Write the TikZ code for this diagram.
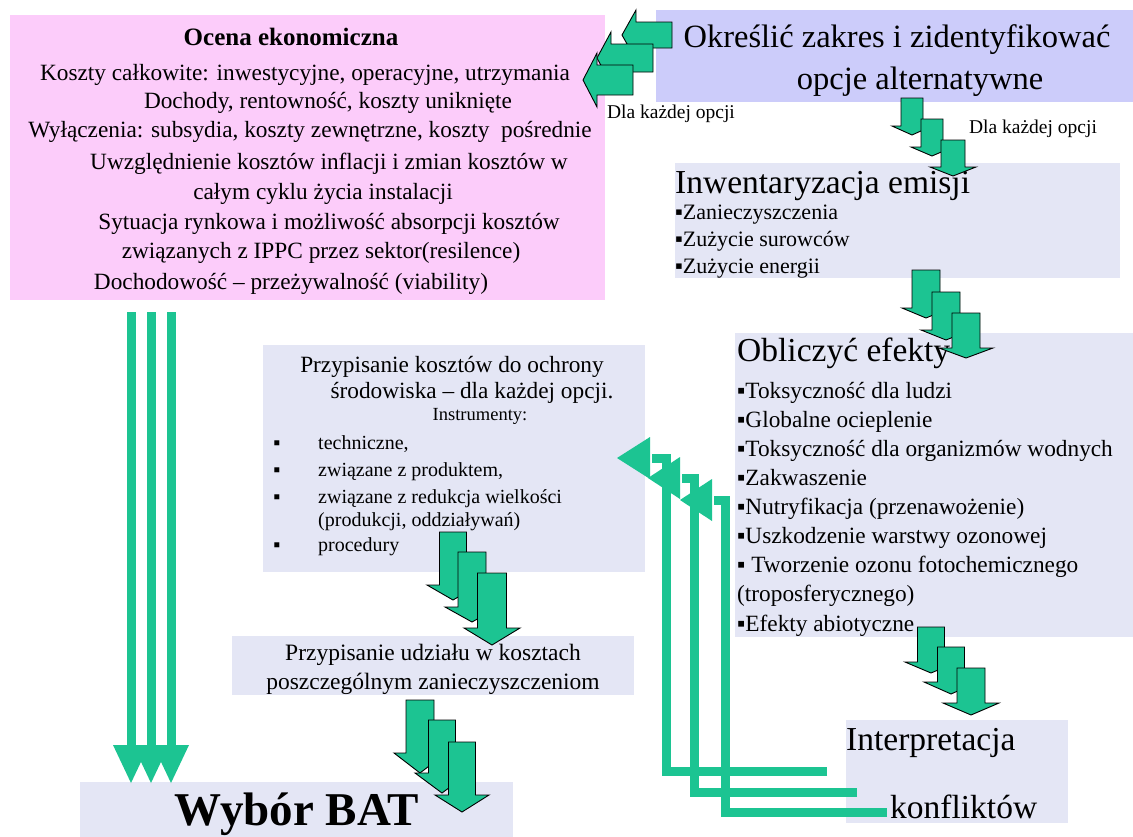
\documentclass[tikz,border=0pt]{standalone}
\usepackage{fontspec}
\setmainfont{Liberation Serif}
\definecolor{pinkc}{RGB}{252,204,250}
\definecolor{lavc}{RGB}{204,204,250}
\definecolor{boxc}{RGB}{228,230,245}
\definecolor{arrgreen}{RGB}{28,196,146}
\newcommand\myfs[1]{\fontsize{#1}{#1}\selectfont}
\newcommand\DnArrow[6]{%
 \filldraw[barrow] ({#1-#3/2},#2) -- ({#1+#3/2},#2) -- ({#1+#3/2},#4) -- ({#1+#5},#4) -- (#1,#6) -- ({#1-#5},#4) -- ({#1-#3/2},#4) -- cycle;}
\newcommand\LtArrow[6]{%
 \filldraw[barrow] (#1,{#2-#4}) -- (#3,{#2-#4}) -- (#3,{#2-#5}) -- (#6,#2) -- (#3,{#2+#5}) -- (#3,{#2+#4}) -- (#1,{#2+#4}) -- cycle;}
\begin{document}
\begin{tikzpicture}[x=1pt,y=-1pt,
  box/.style={draw=none,inner sep=0pt,anchor=north west,fill=boxc},
  txt/.style={inner sep=0pt,anchor=base},
  txtw/.style={inner sep=0pt,anchor=base west},
  barrow/.style={fill=arrgreen,draw=black,line width=0.9pt,line join=miter},
  gline/.style={draw=arrgreen,line width=9pt,line join=miter},
  ghead/.style={fill=arrgreen}]
\useasboundingbox[fill=white] (0,0) rectangle (1133,836);
% boxes
\node[box,fill=pinkc,minimum width=595pt,minimum height=285pt] (eco) at (10,15) {};
\node[box,fill=lavc,minimum width=477pt,minimum height=92pt] (scope) at (656,10) {};
\node[box,minimum width=445pt,minimum height=115pt] (inv) at (675,163) {};
\node[box,minimum width=382pt,minimum height=227pt] (koszt) at (263,345) {};
\node[box,minimum width=398pt,minimum height=304pt] (efekty) at (735,333) {};
\node[box,minimum width=402pt,minimum height=59pt] (udzial) at (232,636) {};
\node[box,minimum width=222pt,minimum height=103pt] (interp) at (846,720) {};
\node[box,minimum width=433pt,minimum height=60pt] (bat) at (80,782) {};
% pink texts
\node[txt,font=\myfs{25}\bfseries] (e0) at (291,45) {Ocena ekonomiczna};
\node[txt,font=\myfs{23.3}] (e1) at (305,80) {Koszty całkowite: inwestycyjne, operacyjne, utrzymania};
\node[txt,font=\myfs{23.3}] (e2) at (328,108) {Dochody, rentowność, koszty uniknięte};
\node[txt,font=\myfs{23.3}] (e3) at (310,137) {Wyłączenia: subsydia, koszty zewnętrzne, koszty\ \ pośrednie};
\node[txt,font=\myfs{23.3}] (e4) at (329,169) {Uwzględnienie kosztów inflacji i zmian kosztów w};
\node[txt,font=\myfs{23.3}] (e5) at (323,199) {całym cyklu życia instalacji};
\node[txt,font=\myfs{23.3}] (e6) at (329,229) {Sytuacja rynkowa i możliwość absorpcji kosztów};
\node[txt,font=\myfs{23.3}] (e7) at (321,258) {związanych z IPPC przez sektor(resilence)};
\node[txt,font=\myfs{23.3}] (e8) at (291,289) {Dochodowość – przeżywalność (viability)};
% scope
\node[txt,font=\myfs{32.5}] (s1) at (897,47) {Określić zakres i zidentyfikować};
\node[txt,font=\myfs{32.5}] (s2) at (920,89) {opcje alternatywne};
\node[txt,font=\myfs{19.5}] (d1) at (671,118) {Dla każdej opcji};
\node[txt,font=\myfs{19.5}] (d2) at (1033,133) {Dla każdej opcji};
% inventory
\node[txtw,font=\myfs{33.5}] (i0) at (675,193) {Inwentaryzacja emisji};
\node[txtw,font=\myfs{22}] (i1) at (675,219) {▪Zanieczyszczenia};
\node[txtw,font=\myfs{22}] (i2) at (675,246) {▪Zużycie surowców};
\node[txtw,font=\myfs{22}] (i3) at (675,273) {▪Zużycie energii};
% effects
\node[txtw,font=\myfs{33.5}] (f0) at (737,361) {Obliczyć efekty};
\node[txtw,font=\myfs{23.3}] (f1) at (737,398) {▪Toksyczność dla ludzi};
\node[txtw,font=\myfs{23.3}] (f2) at (737,427) {▪Globalne ocieplenie};
\node[txtw,font=\myfs{23.3}] (f3) at (737,456) {▪Toksyczność dla organizmów wodnych};
\node[txtw,font=\myfs{23.3}] (f4) at (737,485) {▪Zakwaszenie};
\node[txtw,font=\myfs{23.3}] (f5) at (737,514) {▪Nutryfikacja (przenawożenie)};
\node[txtw,font=\myfs{23.3}] (f6) at (737,543) {▪Uszkodzenie warstwy ozonowej};
\node[txtw,font=\myfs{23.3}] (f7) at (737,572) {▪ Tworzenie ozonu fotochemicznego};
\node[txtw,font=\myfs{23.3}] (f8) at (737,601) {(troposferycznego)};
\node[txtw,font=\myfs{23.3}] (f9) at (737,631) {▪Efekty abiotyczne};
% cost allocation
\node[txt,font=\myfs{23.3}] (k1) at (452,372) {Przypisanie kosztów do ochrony};
\node[txt,font=\myfs{23.3}] (k2) at (472,398) {środowiska – dla każdej opcji.};
\node[txt,font=\myfs{18.5}] (k3) at (480,420) {Instrumenty:};
\foreach \yy/\tt [count=\i] in {449/{techniczne,},476/{związane z produktem,},503/{związane z redukcja wielkości},551/{procedury}}{
  \node[txt,font=\myfs{20}] (kb\i) at (277,\yy) {▪};
  \node[txtw,font=\myfs{20}] (kt\i) at (318,\yy) {\tt};
}
\node[txtw,font=\myfs{20}] (kt5) at (318,526) {(produkcji, oddziaływań)};
% share
\node[txt,font=\myfs{23.5}] (u1) at (433,660) {Przypisanie udziału w kosztach};
\node[txt,font=\myfs{23.5}] (u2) at (433,689) {poszczególnym zanieczyszczeniom};
% interpretation
\node[txtw,font=\myfs{33.5}] (p1) at (846,750) {Interpretacja};
\node[txtw,font=\myfs{33.5}] (p2) at (890,818) {konfliktów};
% BAT
\node[txt,font=\myfs{47}\bfseries] (b1) at (297,825) {Wybór BAT};
% left block arrows (scope -> eco)
\LtArrow{672}{35}{636}{13}{25}{622}
\LtArrow{653}{58}{611}{14}{26}{597}
\LtArrow{633}{80}{597}{15}{27}{583}
% down block arrows
\DnArrow{912}{98}{22}{126}{20}{135}
\DnArrow{932}{119}{22}{147}{21}{156}
\DnArrow{953}{140}{24}{167}{23}{176}
\DnArrow{926}{270}{28}{308}{24}{318}
\DnArrow{946}{292}{28}{330}{25}{340}
\DnArrow{966}{313}{28}{348}{27}{358}
\DnArrow{931}{627}{27}{662}{26}{673}
\DnArrow{951}{647}{27}{682}{27}{694}
\DnArrow{971}{668}{28}{703}{28}{715}
\DnArrow{453}{532}{27}{585}{26}{600}
\DnArrow{472}{552}{28}{607}{27}{622}
\DnArrow{492}{573}{29}{628}{28}{645}
\DnArrow{420}{700}{28}{753}{26}{773}
\DnArrow{442}{720}{27}{773}{27}{793}
\DnArrow{462}{742}{27}{795}{27}{812}
% left triple lines eco -> bat
\foreach \xx [count=\i] in {131,151,171}{
  \coordinate (lt\i) at (\xx,312);
  \coordinate (lb\i) at (\xx,748);
  \draw[gline] (lt\i) -- (lb\i);
  \fill[ghead] (\xx-18,745) -- (\xx+18,745) -- (\xx,783) -- cycle;
}
% return lines interp -> koszt
\foreach \ex/\ey/\vx/\hy/\hb/\tip [count=\i] in {827/771/666/458/650/617, 857/792/694/478/680/648, 887/812/725/500/712/680}{
  \coordinate (rs\i) at (\ex,\ey);
  \coordinate (re\i) at (\hb+2,\hy);
  \draw[gline] (rs\i) -- (\vx,\ey) -- (\vx,\hy) -- (re\i);
  \fill[ghead] (\hb,\hy-21) -- (\hb,\hy+21) -- (\tip,\hy) -- cycle;
}
\end{tikzpicture}
\end{document}
